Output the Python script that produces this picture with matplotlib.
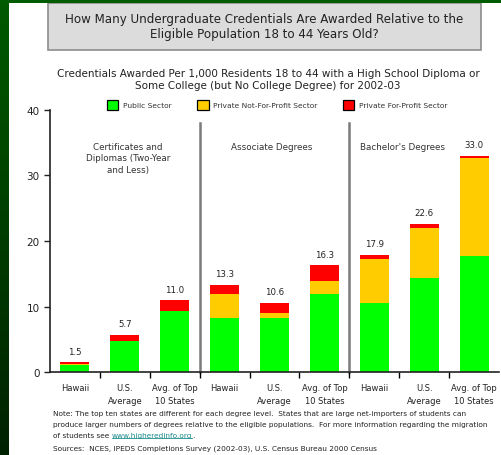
import numpy as np
import matplotlib
matplotlib.use("Agg")
import matplotlib.pyplot as plt
from matplotlib.patches import Rectangle, Patch

# Data (credentials per 1,000 residents, 2002-03)
bar_labels = ["Hawaii", "U.S.\nAverage", "Avg. of Top\n10 States"] * 3
public = [1.1, 4.7, 9.3, 8.2, 8.2, 12.0, 10.6, 14.4, 17.7]
nonprofit = [0.1, 0.0, 0.1, 3.8, 0.8, 1.9, 6.6, 7.6, 15.0]
forprofit = [0.3, 1.0, 1.6, 1.3, 1.6, 2.4, 0.7, 0.6, 0.3]
totals = [1.5, 5.7, 11.0, 13.3, 10.6, 16.3, 17.9, 22.6, 33.0]
groups = ["Certificates and\nDiplomas (Two-Year\nand Less)", "Associate Degrees", "Bachelor's Degrees"]
group_x = [1.06, 3.94, 6.56]
series_names = ["Public Sector", "Private Not-For-Profit Sector", "Private For-Profit Sector"]
colors = ["#00ff00", "#ffcc00", "#ff0000"]

W, H = 501, 456
fig = plt.figure(figsize=(W / 100, H / 100), dpi=100)
fig.patch.set_facecolor("white")

# green slide border (left + top)
gax = fig.add_axes([0, 0, 9 / W, 1])
grad = np.linspace(0, 1, 256).reshape(-1, 1)
gax.imshow(grad, aspect="auto", cmap=matplotlib.colors.LinearSegmentedColormap.from_list(
    "g", ["#005a00", "#002200"]), extent=[0, 1, 0, 1], origin="upper")
gax.axis("off")
fig.patches.append(Rectangle((0, 1 - 4 / H), 1, 4 / H, transform=fig.transFigure,
                             facecolor="#005c00", edgecolor="none", zorder=5))

# title box
fig.patches.append(Rectangle((48 / W, 1 - 51 / H), 433 / W, 47 / H, transform=fig.transFigure,
                             facecolor="#dcdcdc", edgecolor="#8c8c8c", linewidth=1.2))
fig.text(264 / W, 1 - 27 / H,
         "How Many Undergraduate Credentials Are Awarded Relative to the\nEligible Population 18 to 44 Years Old?",
         ha="center", va="center", fontsize=8.6, color="#222222", linespacing=1.25)

fig.text(268 / W, 1 - 80 / H,
         "Credentials Awarded Per 1,000 Residents 18 to 44 with a High School Diploma or\n"
         "Some College (but No College Degree) for 2002-03",
         ha="center", va="center", fontsize=7.5, color="#222222", linespacing=1.3)

ax = fig.add_axes([50 / W, (H - 373.3) / H, 449 / W, 262.6 / H])
x = np.arange(len(public))
bw = 0.58
bottom = np.zeros(len(x))
for vals, c, name in zip([public, nonprofit, forprofit], colors, series_names):
    ax.bar(x, vals, bw, bottom=bottom, color=c, label=name, zorder=2)
    bottom += np.array(vals)

for xi, t, top in zip(x, totals, bottom):
    ax.text(xi, top + 1.0, f"{t:.1f}", ha="center", va="bottom", fontsize=6.2, color="#222222")

# dividers between degree levels
for d in [2.5, 5.5]:
    ax.plot([d, d], [0, 37.9], color="#7a7a7a", linewidth=1.8, zorder=1, clip_on=False)

for gx, g in zip(group_x, groups):
    ax.text(gx, 35.1, g, ha="center", va="top", fontsize=6.3, color="#333333", linespacing=1.35)

ax.set_xlim(-0.5, 8.5)
ax.set_ylim(0, 40)
ax.set_yticks([0, 10, 20, 30, 40])
ax.tick_params(axis="y", labelsize=7.5, colors="#222222", length=4, width=1)
ax.set_xticks(x)
ax.set_xticklabels(bar_labels, fontsize=6.0, color="#222222", linespacing=1.45)
ax.set_xticks(np.arange(0.5, 8, 1), minor=True)
ax.tick_params(axis="x", which="major", length=0, pad=8)
ax.tick_params(axis="x", which="minor", length=4, width=1, direction="out")
for s in ["top", "right"]:
    ax.spines[s].set_visible(False)
for s in ["left", "bottom"]:
    ax.spines[s].set_color("#222222")
    ax.spines[s].set_linewidth(1.2)

handles = [Patch(facecolor=c, edgecolor="black", linewidth=0.9) for c in colors]
fig.legend(handles, series_names, loc="center", bbox_to_anchor=(277 / W, 1 - 106 / H), ncol=3,
           frameon=False, fontsize=5.4, handlelength=1.55, handleheight=1.55, handletextpad=0.6,
           columnspacing=3.4, labelcolor="#333333")

# notes
fs = 5.3
note_lines = [
    "Note: The top ten states are different for each degree level.  States that are large net-importers of students can",
    "produce larger numbers of degrees relative to the eligible populations.  For more information regarding the migration",
]
for i, line in enumerate(note_lines):
    fig.text(53 / W, 1 - (414 + 11 * i) / H, line, ha="left", va="center", fontsize=fs, color="#222222")
t1 = fig.text(53 / W, 1 - 436 / H, "of students see ", ha="left", va="center", fontsize=fs, color="#222222")
fig.canvas.draw()
r = fig.canvas.get_renderer()
bb = t1.get_window_extent(r)
t2 = fig.text(bb.x1 / W, 1 - 436 / H, "www.higheredinfo.org", ha="left", va="center",
              fontsize=fs, color="#1a8a8a")
bb2 = t2.get_window_extent(r)
fig.lines.append(plt.Line2D([bb2.x0 / W, bb2.x1 / W], [(bb2.y0 + 0.5) / H] * 2,
                            transform=fig.transFigure, color="#1a8a8a", linewidth=0.6))
fig.text(bb2.x1 / W, 1 - 436 / H, ".", ha="left", va="center", fontsize=fs, color="#222222")
fig.text(53 / W, 1 - 449 / H,
         "Sources:  NCES, IPEDS Completions Survey (2002-03), U.S. Census Bureau 2000 Census",
         ha="left", va="center", fontsize=fs, color="#222222")

fig.savefig("out.png", dpi=100)
